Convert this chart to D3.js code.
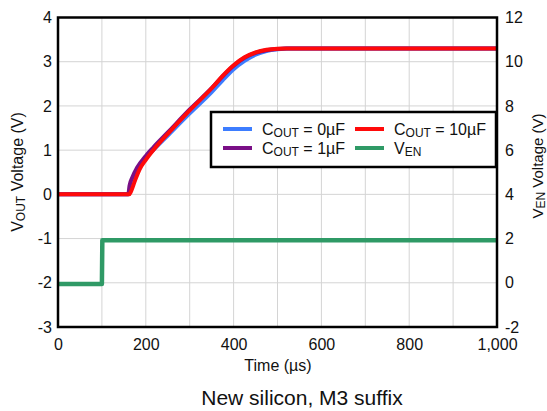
<!DOCTYPE html>
<html>
<head>
<meta charset="utf-8">
<script src="https://cdn.jsdelivr.net/npm/d3@7"></script>
<style>
  body { margin: 0; background: #fff; }
  text { font-family: "Liberation Sans", Arial, sans-serif; fill: #111; }
</style>
</head>
<body>
<div id="chart"></div>
<script>
// time (µs) and voltage readings taken from the plot
const t0uF = [0, 160, 165, 175, 185, 200, 217, 250, 300, 350, 375, 400, 425, 450, 475, 500, 525, 1000]
const v0uF = [0, 0, 0.15, 0.4, 0.6, 0.82, 1.0, 1.33, 1.83, 2.31, 2.58, 2.83, 3.02, 3.16, 3.24, 3.28, 3.3, 3.3]

const t1uF = [0, 160, 163, 170, 180, 200, 217, 250, 300, 350, 375, 400, 425, 450, 475, 500, 520, 1000]
const v1uF = [0, 0, 0.2, 0.4, 0.6, 0.87, 1.06, 1.4, 1.92, 2.4, 2.67, 2.91, 3.09, 3.2, 3.26, 3.29, 3.3, 3.3]

const t10uF = [0, 162, 166, 175, 185, 200, 217, 250, 300, 350, 375, 400, 425, 450, 475, 500, 520, 1000]
const v10uF = [0, 0, 0.06, 0.3, 0.55, 0.78, 1.0, 1.37, 1.9, 2.4, 2.68, 2.92, 3.1, 3.21, 3.27, 3.295, 3.3, 3.3]

const tEN = [0, 100, 101, 1000]
const vEN = [-0.05, -0.05, 1.92, 1.92]

const xTicks = [0, 200, 400, 600, 800, 1000]
const leftTicks = [-3, -2, -1, 0, 1, 2, 3, 4]
const rightTicks = [-2, 0, 2, 4, 6, 8, 10, 12]

const W = 547, H = 411
const m = { left: 58, top: 17.5, right: 497, bottom: 327 }

const svg = d3.select("#chart").append("svg")
  .attr("width", W).attr("height", H)

const x = d3.scaleLinear().domain([0, 1000]).range([m.left, m.right])
const yL = d3.scaleLinear().domain([-3, 4]).range([m.bottom, m.top])
const yR = d3.scaleLinear().domain([-2, 12]).range([m.bottom, m.top])

const intFmt = d => String(d)   // plain hyphen minus like the reference

// grid
const grid = svg.append("g").attr("stroke", "#d4d4d4").attr("stroke-width", 1)
grid.selectAll(".gx").data(d3.range(100, 1000, 100)).join("line")
  .attr("x1", d => x(d)).attr("x2", d => x(d))
  .attr("y1", m.top).attr("y2", m.bottom)
grid.selectAll(".gy").data(d3.range(-2, 4, 1)).join("line")
  .attr("y1", d => yL(d)).attr("y2", d => yL(d))
  .attr("x1", m.left).attr("x2", m.right)

// axes (labels only, no tick marks)
const xAxis = svg.append("g")
  .attr("transform", `translate(0,${m.bottom})`)
  .call(d3.axisBottom(x).tickValues(xTicks).tickSize(0).tickPadding(12).tickFormat(d3.format(",")))
const lAxis = svg.append("g")
  .attr("transform", `translate(${m.left},0)`)
  .call(d3.axisLeft(yL).tickValues(leftTicks).tickSize(0).tickPadding(6).tickFormat(intFmt))
const rAxis = svg.append("g")
  .attr("transform", `translate(${m.right},0)`)
  .call(d3.axisRight(yR).tickValues(rightTicks).tickSize(0).tickPadding(8).tickFormat(intFmt))
for (const a of [xAxis, lAxis, rAxis]) {
  a.select(".domain").remove()
  a.selectAll("text").attr("font-size", 16).attr("font-family", "Liberation Sans, Arial, sans-serif").attr("fill", "#111")
}

// series
const series = [
  { t: t0uF, v: v0uF, color: "#3d7dff", w: 4 },
  { t: t1uF, v: v1uF, color: "#7a0f86", w: 4 },
  { t: tEN, v: vEN, color: "#2f9a66", w: 4.5, right: true },
  { t: t10uF, v: v10uF, color: "#ff0a0a", w: 4 }
]
svg.append("clipPath").attr("id", "clip").append("rect")
  .attr("x", m.left).attr("y", m.top).attr("width", m.right - m.left).attr("height", m.bottom - m.top)
const plot = svg.append("g").attr("clip-path", "url(#clip)")
series.forEach(s => {
  const y = s.right ? yR : yL
  const line = d3.line().x(i => x(s.t[i])).y(i => y(s.v[i]))
    .curve(s.right ? d3.curveLinear : d3.curveMonotoneX)
  plot.append("path")
    .attr("d", line(d3.range(s.t.length)))
    .attr("fill", "none").attr("stroke", s.color)
    .attr("stroke-width", s.w).attr("stroke-linejoin", "round")
})

// frame
svg.append("rect")
  .attr("x", m.left).attr("y", m.top)
  .attr("width", m.right - m.left).attr("height", m.bottom - m.top)
  .attr("fill", "none").attr("stroke", "#000").attr("stroke-width", 2.5)

// axis titles
function sub(textSel, main, subs, rest) {
  textSel.append("tspan").text(main)
  textSel.append("tspan").text(subs).attr("font-size", 12).attr("dy", 2)
  textSel.append("tspan").text(rest).attr("dy", -2)
}
sub(svg.append("text").attr("font-size", 16).attr("text-anchor", "middle")
  .attr("transform", "translate(23,172) rotate(-90)"), "V", "OUT", " Voltage (V)")
sub(svg.append("text").attr("font-size", 15).attr("text-anchor", "middle")
  .attr("transform", "translate(543,166) rotate(-90)"), "V", "EN", " Voltage (V)")
svg.append("text").attr("x", 278).attr("y", 371).attr("text-anchor", "middle")
  .attr("font-size", 16).text("Time (µs)")
svg.append("text").attr("x", 302).attr("y", 405).attr("text-anchor", "middle")
  .attr("font-size", 21).text("New silicon, M3 suffix")

// legend
const legendItems = [
  { col: 0, row: 0, color: "#3d7dff", main: "C", sub: "OUT", rest: " = 0µF" },
  { col: 1, row: 0, color: "#ff0a0a", main: "C", sub: "OUT", rest: " = 10µF" },
  { col: 0, row: 1, color: "#7a0f86", main: "C", sub: "OUT", rest: " = 1µF" },
  { col: 1, row: 1, color: "#2f9a66", main: "V", sub: "EN", rest: "" }
]
const lg = svg.append("g")
lg.append("rect").attr("x", 211).attr("y", 112).attr("width", 285).attr("height", 55)
  .attr("fill", "#fff").attr("stroke", "#000").attr("stroke-width", 2.5)
legendItems.forEach(d => {
  const lx = 223 + d.col * 132, ly = 129 + d.row * 19
  lg.append("line").attr("x1", lx).attr("x2", lx + 29).attr("y1", ly).attr("y2", ly)
    .attr("stroke", d.color).attr("stroke-width", 4)
  sub(lg.append("text").attr("x", lx + 39).attr("y", ly + 6).attr("font-size", 16), d.main, d.sub, d.rest)
})
</script>
</body>
</html>
